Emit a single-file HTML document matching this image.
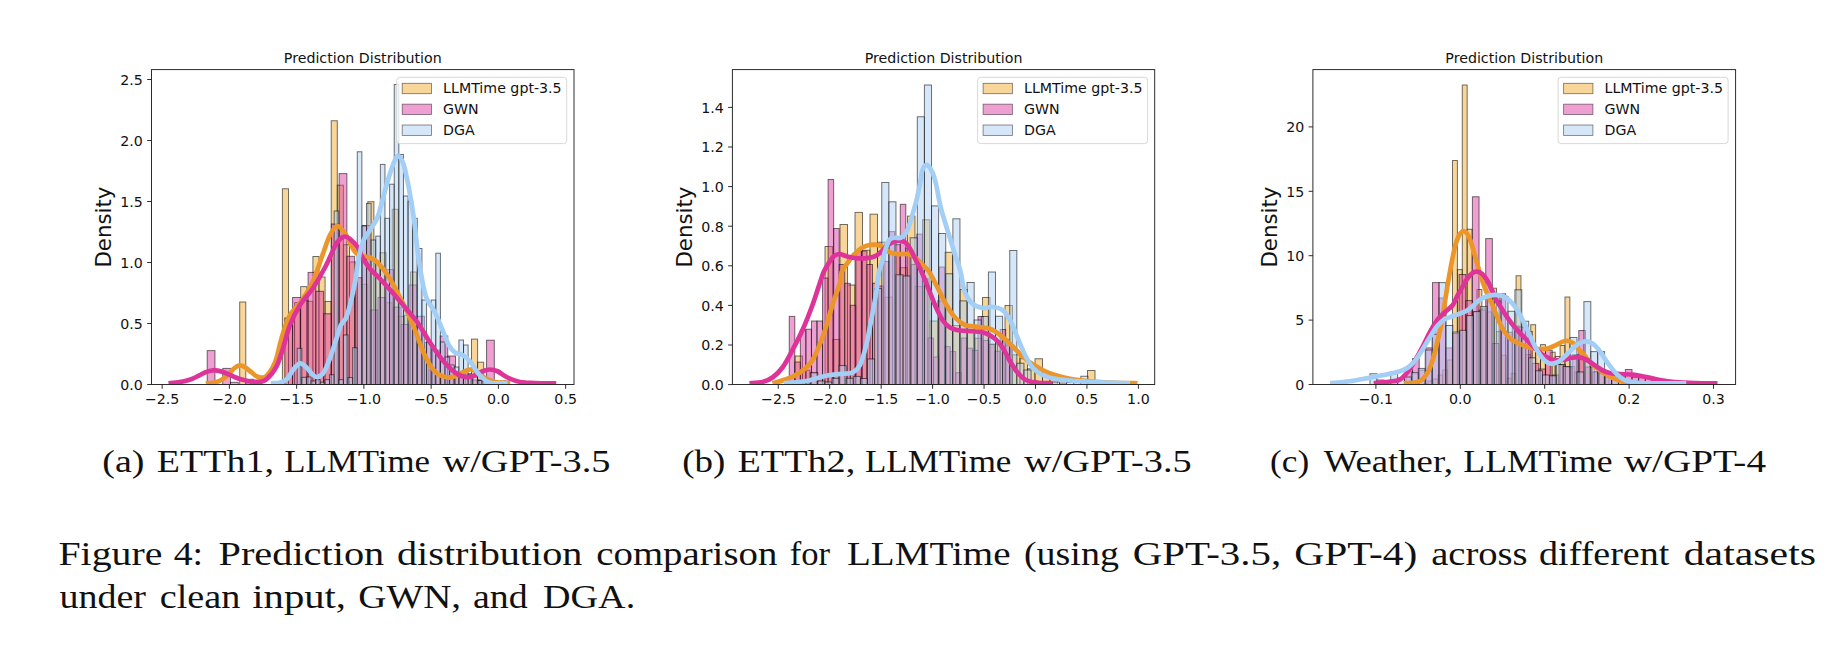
<!DOCTYPE html><html><head><meta charset="utf-8"><title>Figure 4</title>
<style>html,body{margin:0;padding:0;background:#fff}body{width:1835px;height:660px;overflow:hidden}svg{display:block}text{fill:#111}.tk{font-family:"DejaVu Sans", "Liberation Sans", sans-serif;font-size:14.2px}.ttl{font-family:"DejaVu Sans", "Liberation Sans", sans-serif;font-size:14.2px}.yl{font-family:"DejaVu Sans", "Liberation Sans", sans-serif;font-size:21.3px}.lg{font-family:"DejaVu Sans", "Liberation Sans", sans-serif;font-size:14.2px}.cap{font-family:"Liberation Serif", "DejaVu Serif", serif;font-size:33.6px;fill:#000}.sub{font-family:"Liberation Serif", "DejaVu Serif", serif;font-size:30.8px;fill:#000}</style></head><body>
<svg width="1835" height="660" viewBox="0 0 1835 660">
<rect width="1835" height="660" fill="#fff"/>
<g>
<clipPath id="c0"><rect x="151.5" y="69.6" width="422.5" height="314.9"/></clipPath>
<g clip-path="url(#c0)">
<g fill="#F1AB31" fill-opacity="0.5" stroke="#000" stroke-opacity="0.55" stroke-width="1">
<rect x="239.7" y="302" width="6.1" height="82.5"/>
<rect x="282.4" y="188.75" width="6.1" height="195.75"/>
<rect x="288.5" y="318" width="6.1" height="66.5"/>
<rect x="294.6" y="302.5" width="6.1" height="82"/>
<rect x="300.7" y="286.6" width="6.1" height="97.9"/>
<rect x="306.8" y="301.31" width="6.1" height="83.19"/>
<rect x="312.9" y="256.5" width="6.1" height="128"/>
<rect x="319" y="277" width="6.1" height="107.5"/>
<rect x="325.1" y="301.5" width="6.1" height="83"/>
<rect x="331.2" y="120.75" width="6.1" height="263.75"/>
<rect x="337.3" y="185.2" width="6.1" height="199.3"/>
<rect x="343.4" y="244.71" width="6.1" height="139.79"/>
<rect x="349.5" y="262" width="6.1" height="122.5"/>
<rect x="355.6" y="277.78" width="6.1" height="106.72"/>
<rect x="361.7" y="284.3" width="6.1" height="100.2"/>
<rect x="367.8" y="201.7" width="6.1" height="182.8"/>
<rect x="373.9" y="263.46" width="6.1" height="121.04"/>
<rect x="380" y="252.8" width="6.1" height="131.7"/>
<rect x="386.1" y="302.77" width="6.1" height="81.73"/>
<rect x="392.2" y="209.3" width="6.1" height="175.2"/>
<rect x="398.3" y="316.34" width="6.1" height="68.16"/>
<rect x="404.4" y="315.19" width="6.1" height="69.31"/>
<rect x="410.5" y="272" width="6.1" height="112.5"/>
<rect x="416.6" y="344.27" width="6.1" height="40.23"/>
<rect x="422.7" y="358.91" width="6.1" height="25.59"/>
<rect x="428.8" y="369.6" width="6.1" height="14.9"/>
<rect x="434.9" y="374.89" width="6.1" height="9.61"/>
<rect x="441" y="377.04" width="6.1" height="7.46"/>
<rect x="447.1" y="378.12" width="6.1" height="6.38"/>
<rect x="453.2" y="375.88" width="6.1" height="8.62"/>
<rect x="459.3" y="374.48" width="6.1" height="10.02"/>
<rect x="465.4" y="373.7" width="6.1" height="10.8"/>
<rect x="471.5" y="339.1" width="6.1" height="45.4"/>
<rect x="477.6" y="362.2" width="6.1" height="22.3"/>
</g>
<g fill="#DF41A7" fill-opacity="0.5" stroke="#000" stroke-opacity="0.55" stroke-width="1">
<rect x="207.2" y="350.6" width="7.76" height="33.9"/>
<rect x="222.72" y="368.4" width="7.76" height="16.1"/>
<rect x="230.48" y="382.3" width="7.76" height="2.2"/>
<rect x="246" y="379.3" width="7.76" height="5.2"/>
<rect x="284.8" y="318" width="7.76" height="66.5"/>
<rect x="292.56" y="297.5" width="7.76" height="87"/>
<rect x="300.32" y="300" width="7.76" height="84.5"/>
<rect x="308.08" y="272.4" width="7.76" height="112.1"/>
<rect x="315.84" y="291.3" width="7.76" height="93.2"/>
<rect x="323.6" y="313.75" width="7.76" height="70.75"/>
<rect x="331.36" y="224" width="7.76" height="160.5"/>
<rect x="339.12" y="173.6" width="7.76" height="210.9"/>
<rect x="346.88" y="256.3" width="7.76" height="128.2"/>
<rect x="354.64" y="277.7" width="7.76" height="106.8"/>
<rect x="362.4" y="225.5" width="7.76" height="159"/>
<rect x="370.16" y="310" width="7.76" height="74.5"/>
<rect x="377.92" y="297.5" width="7.76" height="87"/>
<rect x="385.68" y="269.6" width="7.76" height="114.9"/>
<rect x="393.44" y="307.14" width="7.76" height="77.36"/>
<rect x="401.2" y="324.47" width="7.76" height="60.03"/>
<rect x="408.96" y="285" width="7.76" height="99.5"/>
<rect x="416.72" y="316.25" width="7.76" height="68.25"/>
<rect x="424.48" y="342.5" width="7.76" height="42"/>
<rect x="432.24" y="350" width="7.76" height="34.5"/>
<rect x="440" y="336" width="7.76" height="48.5"/>
<rect x="447.76" y="356" width="7.76" height="28.5"/>
<rect x="455.52" y="372.5" width="7.76" height="12"/>
<rect x="463.28" y="375" width="7.76" height="9.5"/>
<rect x="471.04" y="380" width="7.76" height="4.5"/>
<rect x="478.8" y="380" width="7.76" height="4.5"/>
<rect x="486.56" y="340.2" width="7.76" height="44.3"/>
</g>
<g fill="#ADCFF3" fill-opacity="0.5" stroke="#000" stroke-opacity="0.55" stroke-width="1">
<rect x="297.2" y="348.3" width="4.62" height="36.2"/>
<rect x="301.82" y="377.3" width="4.62" height="7.2"/>
<rect x="306.44" y="377" width="4.62" height="7.5"/>
<rect x="311.06" y="381" width="4.62" height="3.5"/>
<rect x="315.68" y="379.7" width="4.62" height="4.8"/>
<rect x="320.3" y="382.2" width="4.62" height="2.3"/>
<rect x="324.92" y="379.7" width="4.62" height="4.8"/>
<rect x="329.54" y="374.7" width="4.62" height="9.8"/>
<rect x="334.16" y="211" width="4.62" height="173.5"/>
<rect x="338.78" y="379.7" width="4.62" height="4.8"/>
<rect x="343.4" y="335" width="4.62" height="49.5"/>
<rect x="348.02" y="377.5" width="4.62" height="7"/>
<rect x="352.64" y="347.7" width="4.62" height="36.8"/>
<rect x="357.26" y="151.75" width="4.62" height="232.75"/>
<rect x="361.88" y="226" width="4.62" height="158.5"/>
<rect x="366.5" y="203.4" width="4.62" height="181.1"/>
<rect x="371.12" y="240" width="4.62" height="144.5"/>
<rect x="375.74" y="236.1" width="4.62" height="148.4"/>
<rect x="380.36" y="164.4" width="4.62" height="220.1"/>
<rect x="384.98" y="218.3" width="4.62" height="166.2"/>
<rect x="389.6" y="184.2" width="4.62" height="200.3"/>
<rect x="394.22" y="84.5" width="4.62" height="300"/>
<rect x="398.84" y="154.5" width="4.62" height="230"/>
<rect x="403.46" y="196" width="4.62" height="188.5"/>
<rect x="408.08" y="201.2" width="4.62" height="183.3"/>
<rect x="412.7" y="218.3" width="4.62" height="166.2"/>
<rect x="417.32" y="248.5" width="4.62" height="136"/>
<rect x="421.94" y="300" width="4.62" height="84.5"/>
<rect x="426.56" y="342" width="4.62" height="42.5"/>
<rect x="431.18" y="300" width="4.62" height="84.5"/>
<rect x="435.8" y="253.2" width="4.62" height="131.3"/>
<rect x="440.42" y="342" width="4.62" height="42.5"/>
<rect x="445.04" y="357" width="4.62" height="27.5"/>
<rect x="449.66" y="365" width="4.62" height="19.5"/>
<rect x="454.28" y="367" width="4.62" height="17.5"/>
<rect x="458.9" y="340" width="4.62" height="44.5"/>
<rect x="463.52" y="345" width="4.62" height="39.5"/>
<rect x="468.14" y="375" width="4.62" height="9.5"/>
<rect x="472.76" y="377" width="4.62" height="7.5"/>
<rect x="477.38" y="380.5" width="4.62" height="4"/>
<rect x="482" y="381" width="4.62" height="3.5"/>
<rect x="486.62" y="382" width="4.62" height="2.5"/>
<rect x="491.24" y="382.5" width="4.62" height="2"/>
<rect x="495.86" y="382" width="4.62" height="2.5"/>
<rect x="500.48" y="381" width="4.62" height="3.5"/>
<rect x="505.1" y="381" width="4.62" height="3.5"/>
</g>
<path d="M205.8 383.3C207.43 383.12 212.88 382.82 215.6 382.2C218.32 381.58 219.92 380.9 222.1 379.6C224.28 378.3 226.73 376.25 228.7 374.4C230.67 372.55 232.05 370 233.9 368.5C235.75 367 237.95 365.62 239.8 365.4C241.65 365.18 243.03 366.03 245 367.2C246.97 368.37 249.63 370.87 251.6 372.4C253.57 373.93 255.17 375.52 256.8 376.4C258.43 377.28 259.87 377.7 261.4 377.7C262.93 377.7 264.58 377.38 266 376.4C267.42 375.42 268.72 373.45 269.9 371.8C271.08 370.15 272.02 368.72 273.1 366.5C274.18 364.28 274.83 363.75 276.4 358.5C277.97 353.25 280.23 342.25 282.5 335C284.77 327.75 287.08 320.33 290 315C292.92 309.67 296.25 308.42 300 303C303.75 297.58 308.75 290.5 312.5 282.5C316.25 274.5 319.58 262.92 322.5 255C325.42 247.08 327.5 239.83 330 235C332.5 230.17 334.83 226 337.5 226C340.17 226 343.29 231 346 235C348.71 239 351.75 246.75 353.75 250C355.75 253.25 356.54 253.46 358 254.5C359.46 255.54 360.5 255.75 362.5 256.25C364.5 256.75 367.5 256.46 370 257.5C372.5 258.54 374.58 259.58 377.5 262.5C380.42 265.42 384.17 270 387.5 275C390.83 280 394.17 286.25 397.5 292.5C400.83 298.75 404.58 306.25 407.5 312.5C410.42 318.75 412.5 323.75 415 330C417.5 336.25 420 344.17 422.5 350C425 355.83 427.5 361.04 430 365C432.5 368.96 434.58 371.67 437.5 373.75C440.42 375.83 444.58 377.08 447.5 377.5C450.42 377.92 452.08 377.29 455 376.25C457.92 375.21 462.29 372.38 465 371.25C467.71 370.12 469.17 369.29 471.25 369.5C473.33 369.71 475.21 371.08 477.5 372.5C479.79 373.92 482.08 376.42 485 378C487.92 379.58 490.83 381.12 495 382C499.17 382.88 507.5 383.08 510 383.3" fill="none" stroke="#EC962A" stroke-width="4.7" stroke-linejoin="round" stroke-linecap="butt"/>
<path d="M168.5 383.3C170.35 383.12 176.65 382.62 179.6 382.2C182.55 381.78 184.02 381.4 186.2 380.8C188.38 380.2 190.53 379.5 192.7 378.6C194.87 377.7 197.02 376.48 199.2 375.4C201.38 374.32 203.62 372.92 205.8 372.1C207.98 371.28 210.67 370.8 212.3 370.5C213.93 370.2 213.97 370.08 215.6 370.3C217.23 370.52 219.92 371.12 222.1 371.8C224.28 372.48 226.52 373.48 228.7 374.4C230.88 375.32 233.02 376.43 235.2 377.3C237.38 378.17 239.62 378.93 241.8 379.6C243.98 380.27 246.13 380.92 248.3 381.3C250.47 381.68 252.62 381.85 254.8 381.9C256.98 381.95 259.53 381.98 261.4 381.6C263.27 381.22 264.37 380.8 266 379.6C267.63 378.4 269.78 376.03 271.2 374.4C272.62 372.77 273.42 371.55 274.5 369.8C275.58 368.05 276.37 367.2 277.7 363.9C279.03 360.6 280.45 356.48 282.5 350C284.55 343.52 287.08 332.5 290 325C292.92 317.5 296.25 311.04 300 305C303.75 298.96 308.33 295 312.5 288.75C316.67 282.5 321.25 274.58 325 267.5C328.75 260.42 332.5 251 335 246.25C337.5 241.5 338.33 240.62 340 239C341.67 237.38 343.33 236.5 345 236.5C346.67 236.5 347.92 237.25 350 239C352.08 240.75 355.42 243.92 357.5 247C359.58 250.08 360.42 253.88 362.5 257.5C364.58 261.12 367.08 265.21 370 268.75C372.92 272.29 376.25 274.79 380 278.75C383.75 282.71 388.33 287.71 392.5 292.5C396.67 297.29 400.83 302.5 405 307.5C409.17 312.5 413.33 316.67 417.5 322.5C421.67 328.33 425.83 336.25 430 342.5C434.17 348.75 438.33 355 442.5 360C446.67 365 451.25 369.67 455 372.5C458.75 375.33 462.08 376.38 465 377C467.92 377.62 469.58 377.21 472.5 376.25C475.42 375.29 479.58 372.38 482.5 371.25C485.42 370.12 487.5 369.5 490 369.5C492.5 369.5 494.58 369.92 497.5 371.25C500.42 372.58 503.75 375.71 507.5 377.5C511.25 379.29 515.42 381.08 520 382C524.58 382.92 528.96 382.78 535 383C541.04 383.22 552.71 383.25 556.25 383.3" fill="none" stroke="#DE3399" stroke-width="4.7" stroke-linejoin="round" stroke-linecap="butt"/>
<path d="M270.8 383.3C272.33 383.17 277.3 383.22 280 382.5C282.7 381.78 284.83 381.08 287 379C289.17 376.92 290.83 372.6 293 370C295.17 367.4 297.67 363.73 300 363.4C302.33 363.07 304.83 366.07 307 368C309.17 369.93 311.17 373.5 313 375C314.83 376.5 316.17 377.5 318 377C319.83 376.5 322 375.17 324 372C326 368.83 328 363.33 330 358C332 352.67 334.17 345.5 336 340C337.83 334.5 339.33 328.67 341 325C342.67 321.33 344.5 321.33 346 318C347.5 314.67 348.5 310.92 350 305C351.5 299.08 353.54 290.42 355 282.5C356.46 274.58 357.29 264.58 358.75 257.5C360.21 250.42 361.88 244.58 363.75 240C365.62 235.42 367.71 233.75 370 230C372.29 226.25 375.42 222.5 377.5 217.5C379.58 212.5 380.62 206.67 382.5 200C384.38 193.33 386.67 184.17 388.75 177.5C390.83 170.83 393.33 163.54 395 160C396.67 156.46 397.29 155.42 398.75 156.25C400.21 157.08 402.08 159.79 403.75 165C405.42 170.21 407.08 178.75 408.75 187.5C410.42 196.25 412.29 207.08 413.75 217.5C415.21 227.92 416.25 240.42 417.5 250C418.75 259.58 419.79 267.08 421.25 275C422.71 282.92 423.96 291.25 426.25 297.5C428.54 303.75 432.29 307.08 435 312.5C437.71 317.92 440.21 324.58 442.5 330C444.79 335.42 446.67 341.25 448.75 345C450.83 348.75 452.71 350.83 455 352.5C457.29 354.17 460 353.54 462.5 355C465 356.46 467.5 358.33 470 361.25C472.5 364.17 475 369.38 477.5 372.5C480 375.62 482.71 378.25 485 380C487.29 381.75 487.5 382.45 491.25 383C495 383.55 504.79 383.25 507.5 383.3" fill="none" stroke="#A3CEF5" stroke-width="4.7" stroke-linejoin="round" stroke-linecap="butt"/>
</g>
<rect x="151.5" y="69.6" width="422.5" height="314.9" fill="none" stroke="#222" stroke-width="0.95"/>
<line x1="162.15" y1="384.5" x2="162.15" y2="388.8" stroke="#222" stroke-width="0.95"/>
<text class="tk" x="162.15" y="403.8" text-anchor="middle">−2.5</text>
<line x1="229.4" y1="384.5" x2="229.4" y2="388.8" stroke="#222" stroke-width="0.95"/>
<text class="tk" x="229.4" y="403.8" text-anchor="middle">−2.0</text>
<line x1="296.65" y1="384.5" x2="296.65" y2="388.8" stroke="#222" stroke-width="0.95"/>
<text class="tk" x="296.65" y="403.8" text-anchor="middle">−1.5</text>
<line x1="363.9" y1="384.5" x2="363.9" y2="388.8" stroke="#222" stroke-width="0.95"/>
<text class="tk" x="363.9" y="403.8" text-anchor="middle">−1.0</text>
<line x1="431.15" y1="384.5" x2="431.15" y2="388.8" stroke="#222" stroke-width="0.95"/>
<text class="tk" x="431.15" y="403.8" text-anchor="middle">−0.5</text>
<line x1="498.4" y1="384.5" x2="498.4" y2="388.8" stroke="#222" stroke-width="0.95"/>
<text class="tk" x="498.4" y="403.8" text-anchor="middle">0.0</text>
<line x1="565.65" y1="384.5" x2="565.65" y2="388.8" stroke="#222" stroke-width="0.95"/>
<text class="tk" x="565.65" y="403.8" text-anchor="middle">0.5</text>
<line x1="147.2" y1="384.5" x2="151.5" y2="384.5" stroke="#222" stroke-width="0.95"/>
<text class="tk" x="142.9" y="389.8" text-anchor="end">0.0</text>
<line x1="147.2" y1="323.5" x2="151.5" y2="323.5" stroke="#222" stroke-width="0.95"/>
<text class="tk" x="142.9" y="328.8" text-anchor="end">0.5</text>
<line x1="147.2" y1="262.5" x2="151.5" y2="262.5" stroke="#222" stroke-width="0.95"/>
<text class="tk" x="142.9" y="267.8" text-anchor="end">1.0</text>
<line x1="147.2" y1="201.5" x2="151.5" y2="201.5" stroke="#222" stroke-width="0.95"/>
<text class="tk" x="142.9" y="206.8" text-anchor="end">1.5</text>
<line x1="147.2" y1="140.5" x2="151.5" y2="140.5" stroke="#222" stroke-width="0.95"/>
<text class="tk" x="142.9" y="145.8" text-anchor="end">2.0</text>
<line x1="147.2" y1="79.5" x2="151.5" y2="79.5" stroke="#222" stroke-width="0.95"/>
<text class="tk" x="142.9" y="84.8" text-anchor="end">2.5</text>
<text class="ttl" x="362.75" y="62.7" text-anchor="middle">Prediction Distribution</text>
<text class="yl" transform="translate(111.3 227.05) rotate(-90)" text-anchor="middle">Density</text>
<rect x="396.7" y="77.3" width="170" height="66.3" rx="3" ry="3" fill="#fff" fill-opacity="0.8" stroke="#ccc" stroke-opacity="0.8" stroke-width="0.95"/>
<rect x="402.2" y="83.3" width="29.3" height="10.4" fill="#F1AB31" fill-opacity="0.5" stroke="#000" stroke-opacity="0.5" stroke-width="0.85"/>
<text class="lg" x="443.1" y="93.3">LLMTime gpt-3.5</text>
<rect x="402.2" y="104.15" width="29.3" height="10.4" fill="#DF41A7" fill-opacity="0.5" stroke="#000" stroke-opacity="0.5" stroke-width="0.85"/>
<text class="lg" x="443.1" y="114.15">GWN</text>
<rect x="402.2" y="125" width="29.3" height="10.4" fill="#ADCFF3" fill-opacity="0.5" stroke="#000" stroke-opacity="0.5" stroke-width="0.85"/>
<text class="lg" x="443.1" y="135">DGA</text>
</g>
<g>
<clipPath id="c1"><rect x="732.4" y="69.6" width="422.3" height="314.9"/></clipPath>
<g clip-path="url(#c1)">
<g fill="#F1AB31" fill-opacity="0.5" stroke="#000" stroke-opacity="0.55" stroke-width="1">
<rect x="795" y="356" width="7.5" height="28.5"/>
<rect x="802.5" y="370.2" width="7.5" height="14.3"/>
<rect x="810" y="372.7" width="7.5" height="11.8"/>
<rect x="817.5" y="378" width="7.5" height="6.5"/>
<rect x="825" y="246.5" width="7.5" height="138"/>
<rect x="832.5" y="339.5" width="7.5" height="45"/>
<rect x="840" y="224.5" width="7.5" height="160"/>
<rect x="847.5" y="285" width="7.5" height="99.5"/>
<rect x="855" y="212.4" width="7.5" height="172.1"/>
<rect x="862.5" y="250.2" width="7.5" height="134.3"/>
<rect x="870" y="214.2" width="7.5" height="170.3"/>
<rect x="877.5" y="242.2" width="7.5" height="142.3"/>
<rect x="885" y="297.2" width="7.5" height="87.3"/>
<rect x="892.5" y="254.46" width="7.5" height="130.04"/>
<rect x="900" y="267.72" width="7.5" height="116.78"/>
<rect x="907.5" y="216.1" width="7.5" height="168.4"/>
<rect x="915" y="286.6" width="7.5" height="97.9"/>
<rect x="922.5" y="219.8" width="7.5" height="164.7"/>
<rect x="930" y="321" width="7.5" height="63.5"/>
<rect x="937.5" y="300.9" width="7.5" height="83.6"/>
<rect x="945" y="252.3" width="7.5" height="132.2"/>
<rect x="952.5" y="325.51" width="7.5" height="58.99"/>
<rect x="960" y="289.5" width="7.5" height="95"/>
<rect x="967.5" y="332.16" width="7.5" height="52.34"/>
<rect x="975" y="338.32" width="7.5" height="46.18"/>
<rect x="982.5" y="297.5" width="7.5" height="87"/>
<rect x="990" y="344.08" width="7.5" height="40.42"/>
<rect x="997.5" y="341.03" width="7.5" height="43.47"/>
<rect x="1005" y="305.5" width="7.5" height="79"/>
<rect x="1012.5" y="354.82" width="7.5" height="29.68"/>
<rect x="1020" y="358.68" width="7.5" height="25.82"/>
<rect x="1027.5" y="368.75" width="7.5" height="15.75"/>
<rect x="1035" y="358.75" width="7.5" height="25.75"/>
<rect x="1042.5" y="371.5" width="7.5" height="13"/>
<rect x="1050" y="374.5" width="7.5" height="10"/>
<rect x="1087.5" y="370.5" width="7.5" height="14"/>
</g>
<g fill="#DF41A7" fill-opacity="0.5" stroke="#000" stroke-opacity="0.55" stroke-width="1">
<rect x="789.25" y="316.4" width="5.55" height="68.1"/>
<rect x="794.8" y="362" width="5.55" height="22.5"/>
<rect x="800.35" y="329.8" width="5.55" height="54.7"/>
<rect x="805.9" y="329.2" width="5.55" height="55.3"/>
<rect x="811.45" y="321" width="5.55" height="63.5"/>
<rect x="817" y="321" width="5.55" height="63.5"/>
<rect x="822.55" y="278" width="5.55" height="106.5"/>
<rect x="828.1" y="179.5" width="5.55" height="205"/>
<rect x="833.65" y="228.5" width="5.55" height="156"/>
<rect x="839.2" y="264.5" width="5.55" height="120"/>
<rect x="844.75" y="283.3" width="5.55" height="101.2"/>
<rect x="850.3" y="305.3" width="5.55" height="79.2"/>
<rect x="855.85" y="250.9" width="5.55" height="133.6"/>
<rect x="861.4" y="251" width="5.55" height="133.5"/>
<rect x="866.95" y="264.5" width="5.55" height="120"/>
<rect x="872.5" y="283.3" width="5.55" height="101.2"/>
<rect x="878.05" y="286" width="5.55" height="98.5"/>
<rect x="883.6" y="261.4" width="5.55" height="123.1"/>
<rect x="889.15" y="231.6" width="5.55" height="152.9"/>
<rect x="894.7" y="244.7" width="5.55" height="139.8"/>
<rect x="900.25" y="204.3" width="5.55" height="180.2"/>
<rect x="905.8" y="248" width="5.55" height="136.5"/>
<rect x="911.35" y="264.5" width="5.55" height="120"/>
<rect x="916.9" y="234.1" width="5.55" height="150.4"/>
<rect x="922.45" y="278.6" width="5.55" height="105.9"/>
<rect x="928" y="338" width="5.55" height="46.5"/>
<rect x="933.55" y="357" width="5.55" height="27.5"/>
<rect x="939.1" y="267" width="5.55" height="117.5"/>
<rect x="944.65" y="346.6" width="5.55" height="37.9"/>
<rect x="950.2" y="351.6" width="5.55" height="32.9"/>
<rect x="955.75" y="372.7" width="5.55" height="11.8"/>
<rect x="961.3" y="338" width="5.55" height="46.5"/>
<rect x="966.85" y="348.2" width="5.55" height="36.3"/>
<rect x="972.4" y="350.3" width="5.55" height="34.2"/>
<rect x="977.95" y="316.5" width="5.55" height="68"/>
<rect x="983.5" y="340.4" width="5.55" height="44.1"/>
<rect x="989.05" y="344.5" width="5.55" height="40"/>
<rect x="994.6" y="351.25" width="5.55" height="33.25"/>
<rect x="1000.15" y="329.5" width="5.55" height="55"/>
<rect x="1005.7" y="345" width="5.55" height="39.5"/>
</g>
<g fill="#ADCFF3" fill-opacity="0.5" stroke="#000" stroke-opacity="0.55" stroke-width="1">
<rect x="810.65" y="372.7" width="7.11" height="11.8"/>
<rect x="817.76" y="381" width="7.11" height="3.5"/>
<rect x="824.87" y="382" width="7.11" height="2.5"/>
<rect x="831.98" y="378.3" width="7.11" height="6.2"/>
<rect x="839.09" y="365.6" width="7.11" height="18.9"/>
<rect x="846.2" y="378.3" width="7.11" height="6.2"/>
<rect x="853.31" y="376.4" width="7.11" height="8.1"/>
<rect x="860.42" y="378.5" width="7.11" height="6"/>
<rect x="867.53" y="359" width="7.11" height="25.5"/>
<rect x="874.64" y="288.62" width="7.11" height="95.88"/>
<rect x="881.75" y="182.5" width="7.11" height="202"/>
<rect x="888.86" y="201.8" width="7.11" height="182.7"/>
<rect x="895.97" y="274.8" width="7.11" height="109.7"/>
<rect x="903.08" y="276" width="7.11" height="108.5"/>
<rect x="910.19" y="237.8" width="7.11" height="146.7"/>
<rect x="917.3" y="116.75" width="7.11" height="267.75"/>
<rect x="924.41" y="85" width="7.11" height="299.5"/>
<rect x="931.52" y="205.9" width="7.11" height="178.6"/>
<rect x="938.63" y="233.5" width="7.11" height="151"/>
<rect x="945.74" y="273.75" width="7.11" height="110.75"/>
<rect x="952.85" y="218.8" width="7.11" height="165.7"/>
<rect x="959.96" y="300.9" width="7.11" height="83.6"/>
<rect x="967.07" y="282.5" width="7.11" height="102"/>
<rect x="974.18" y="320" width="7.11" height="64.5"/>
<rect x="981.29" y="316.5" width="7.11" height="68"/>
<rect x="988.4" y="272" width="7.11" height="112.5"/>
<rect x="995.51" y="316.25" width="7.11" height="68.25"/>
<rect x="1002.62" y="340" width="7.11" height="44.5"/>
<rect x="1009.73" y="250.5" width="7.11" height="134"/>
<rect x="1016.84" y="363.25" width="7.11" height="21.25"/>
<rect x="1023.95" y="370" width="7.11" height="14.5"/>
<rect x="1031.06" y="381" width="7.11" height="3.5"/>
<rect x="1038.17" y="382" width="7.11" height="2.5"/>
<rect x="1045.28" y="382.5" width="7.11" height="2"/>
<rect x="1052.39" y="382" width="7.11" height="2.5"/>
<rect x="1059.5" y="383" width="7.11" height="1.5"/>
<rect x="1066.61" y="382.5" width="7.11" height="2"/>
<rect x="1073.72" y="382" width="7.11" height="2.5"/>
<rect x="1080.83" y="376.25" width="7.11" height="8.25"/>
<rect x="1087.94" y="383" width="7.11" height="1.5"/>
<rect x="1095.05" y="383" width="7.11" height="1.5"/>
<rect x="1102.16" y="383" width="7.11" height="1.5"/>
<rect x="1109.27" y="383" width="7.11" height="1.5"/>
<rect x="1116.38" y="383" width="7.11" height="1.5"/>
<rect x="1123.49" y="383" width="7.11" height="1.5"/>
</g>
<path d="M772.5 383.3C775 382.54 782.92 380.55 787.5 378.75C792.08 376.95 796.25 375 800 372.5C803.75 370 807.08 367.5 810 363.75C812.92 360 815 355.62 817.5 350C820 344.38 822.5 337.5 825 330C827.5 322.5 830 312.92 832.5 305C835 297.08 838.47 288 840 282.5C841.53 277 840.48 275.2 841.7 272C842.92 268.8 845.33 266.1 847.3 263.3C849.27 260.5 851.23 257.68 853.5 255.2C855.77 252.72 858.42 250.05 860.9 248.4C863.38 246.75 865.92 245.92 868.4 245.3C870.88 244.68 873.53 244.5 875.8 244.7C878.07 244.9 879.72 245.27 882 246.5C884.28 247.73 887 250.85 889.5 252.1C892 253.35 894.52 253.68 897 254C899.48 254.32 902.13 253.9 904.4 254C906.67 254.1 908.53 253.78 910.6 254.6C912.67 255.42 914.73 257.13 916.8 258.9C918.87 260.67 920.92 263.02 923 265.2C925.08 267.38 926.88 268.28 929.3 272C931.72 275.72 934.88 282.42 937.5 287.5C940.12 292.58 942.08 297.5 945 302.5C947.92 307.5 951.67 313.75 955 317.5C958.33 321.25 961.25 323.46 965 325C968.75 326.54 973.33 326.12 977.5 326.75C981.67 327.38 986.25 327.38 990 328.75C993.75 330.12 996.67 332.5 1000 335C1003.33 337.5 1006.67 340.62 1010 343.75C1013.33 346.88 1016.67 350.62 1020 353.75C1023.33 356.88 1026.25 359.79 1030 362.5C1033.75 365.21 1038.33 367.92 1042.5 370C1046.67 372.08 1050.42 373.54 1055 375C1059.58 376.46 1064.17 377.71 1070 378.75C1075.83 379.79 1082.5 380.58 1090 381.25C1097.5 381.92 1107.08 382.41 1115 382.75C1122.92 383.09 1133.75 383.21 1137.5 383.3" fill="none" stroke="#EC962A" stroke-width="4.7" stroke-linejoin="round" stroke-linecap="butt"/>
<path d="M749.5 383.3C751.67 383.08 758.67 382.97 762.5 382C766.33 381.03 769.17 379.92 772.5 377.5C775.83 375.08 779.17 372.08 782.5 367.5C785.83 362.92 789.17 356.25 792.5 350C795.83 343.75 799.17 337.5 802.5 330C805.83 322.5 809.58 312.92 812.5 305C815.42 297.08 818.13 288 820 282.5C821.87 277 822.27 275.2 823.7 272C825.13 268.8 826.95 265.88 828.6 263.3C830.25 260.72 831.83 258.05 833.6 256.5C835.37 254.95 836.92 254 839.2 254C841.48 254 844.3 255.78 847.3 256.5C850.3 257.22 853.9 258.03 857.2 258.3C860.5 258.57 864 258.52 867.1 258.1C870.2 257.68 873.32 257 875.8 255.8C878.28 254.6 879.92 252.75 882 250.9C884.08 249.05 886.22 246.25 888.3 244.7C890.38 243.15 892.43 242.23 894.5 241.6C896.57 240.97 898.83 240.7 900.7 240.9C902.57 241.1 904.05 241.35 905.7 242.8C907.35 244.25 908.95 246.8 910.6 249.6C912.25 252.4 913.93 256.28 915.6 259.6C917.27 262.92 919.03 266.1 920.6 269.5C922.17 272.9 923.43 276.17 925 280C926.57 283.83 928.33 288.33 930 292.5C931.67 296.67 932.92 300.42 935 305C937.08 309.58 940 316.25 942.5 320C945 323.75 947.08 325.75 950 327.5C952.92 329.25 956.25 329.88 960 330.5C963.75 331.12 968.33 330.83 972.5 331.25C976.67 331.67 981.25 331.75 985 333C988.75 334.25 992.08 336.33 995 338.75C997.92 341.17 1000 343.75 1002.5 347.5C1005 351.25 1007.5 357.08 1010 361.25C1012.5 365.42 1015 369.46 1017.5 372.5C1020 375.54 1022.08 377.83 1025 379.5C1027.92 381.17 1030.42 381.87 1035 382.5C1039.58 383.13 1049.58 383.17 1052.5 383.3" fill="none" stroke="#DE3399" stroke-width="4.7" stroke-linejoin="round" stroke-linecap="butt"/>
<path d="M783.75 383.3C787.29 382.96 799.38 382.13 805 381.25C810.62 380.37 813.33 379.04 817.5 378C821.67 376.96 825.83 375.71 830 375C834.17 374.29 838.75 374.17 842.5 373.75C846.25 373.33 849.58 373.96 852.5 372.5C855.42 371.04 857.71 369.58 860 365C862.29 360.42 864.38 352.5 866.25 345C868.12 337.5 869.58 328.75 871.25 320C872.92 311.25 874.98 300.5 876.25 292.5C877.52 284.5 877.94 277.08 878.9 272C879.86 266.92 880.85 265.93 882 262C883.15 258.07 884.55 252.12 885.8 248.4C887.05 244.68 888.05 241.47 889.5 239.7C890.95 237.93 892.63 238.12 894.5 237.8C896.37 237.48 898.83 238.52 900.7 237.8C902.57 237.08 904.25 235.67 905.7 233.5C907.15 231.33 908.17 228.32 909.4 224.8C910.63 221.28 911.87 216.75 913.1 212.4C914.33 208.05 915.65 203.43 916.8 198.7C917.95 193.97 919.05 188.78 920 184C920.95 179.22 921.33 173.17 922.5 170C923.67 166.83 925.33 164.58 927 165C928.67 165.42 931 169.33 932.5 172.5C934 175.67 934.68 178.4 936 184C937.32 189.6 938.83 199.52 940.4 206.1C941.97 212.68 943.73 217.9 945.4 223.5C947.07 229.1 948.75 234.32 950.4 239.7C952.05 245.08 953.65 250.63 955.3 255.8C956.95 260.97 958.68 264.58 960.3 270.7C961.92 276.82 962.97 286.99 965 292.5C967.03 298.01 969.58 301.17 972.5 303.75C975.42 306.33 979.17 307.46 982.5 308C985.83 308.54 989.17 306.67 992.5 307C995.83 307.33 999.58 307.83 1002.5 310C1005.42 312.17 1007.5 315.42 1010 320C1012.5 324.58 1015 331.67 1017.5 337.5C1020 343.33 1022.5 350 1025 355C1027.5 360 1029.58 364.17 1032.5 367.5C1035.42 370.83 1038.75 373.12 1042.5 375C1046.25 376.88 1050.42 377.83 1055 378.75C1059.58 379.67 1065 380.04 1070 380.5C1075 380.96 1079.17 381.17 1085 381.5C1090.83 381.83 1097.5 382.2 1105 382.5C1112.5 382.8 1125.83 383.17 1130 383.3" fill="none" stroke="#A3CEF5" stroke-width="4.7" stroke-linejoin="round" stroke-linecap="butt"/>
</g>
<rect x="732.4" y="69.6" width="422.3" height="314.9" fill="none" stroke="#222" stroke-width="0.95"/>
<line x1="778.25" y1="384.5" x2="778.25" y2="388.8" stroke="#222" stroke-width="0.95"/>
<text class="tk" x="778.25" y="403.8" text-anchor="middle">−2.5</text>
<line x1="829.7" y1="384.5" x2="829.7" y2="388.8" stroke="#222" stroke-width="0.95"/>
<text class="tk" x="829.7" y="403.8" text-anchor="middle">−2.0</text>
<line x1="881.15" y1="384.5" x2="881.15" y2="388.8" stroke="#222" stroke-width="0.95"/>
<text class="tk" x="881.15" y="403.8" text-anchor="middle">−1.5</text>
<line x1="932.6" y1="384.5" x2="932.6" y2="388.8" stroke="#222" stroke-width="0.95"/>
<text class="tk" x="932.6" y="403.8" text-anchor="middle">−1.0</text>
<line x1="984.05" y1="384.5" x2="984.05" y2="388.8" stroke="#222" stroke-width="0.95"/>
<text class="tk" x="984.05" y="403.8" text-anchor="middle">−0.5</text>
<line x1="1035.5" y1="384.5" x2="1035.5" y2="388.8" stroke="#222" stroke-width="0.95"/>
<text class="tk" x="1035.5" y="403.8" text-anchor="middle">0.0</text>
<line x1="1086.95" y1="384.5" x2="1086.95" y2="388.8" stroke="#222" stroke-width="0.95"/>
<text class="tk" x="1086.95" y="403.8" text-anchor="middle">0.5</text>
<line x1="1138.4" y1="384.5" x2="1138.4" y2="388.8" stroke="#222" stroke-width="0.95"/>
<text class="tk" x="1138.4" y="403.8" text-anchor="middle">1.0</text>
<line x1="728.1" y1="384.6" x2="732.4" y2="384.6" stroke="#222" stroke-width="0.95"/>
<text class="tk" x="723.8" y="389.9" text-anchor="end">0.0</text>
<line x1="728.1" y1="345" x2="732.4" y2="345" stroke="#222" stroke-width="0.95"/>
<text class="tk" x="723.8" y="350.3" text-anchor="end">0.2</text>
<line x1="728.1" y1="305.4" x2="732.4" y2="305.4" stroke="#222" stroke-width="0.95"/>
<text class="tk" x="723.8" y="310.7" text-anchor="end">0.4</text>
<line x1="728.1" y1="265.8" x2="732.4" y2="265.8" stroke="#222" stroke-width="0.95"/>
<text class="tk" x="723.8" y="271.1" text-anchor="end">0.6</text>
<line x1="728.1" y1="226.2" x2="732.4" y2="226.2" stroke="#222" stroke-width="0.95"/>
<text class="tk" x="723.8" y="231.5" text-anchor="end">0.8</text>
<line x1="728.1" y1="186.6" x2="732.4" y2="186.6" stroke="#222" stroke-width="0.95"/>
<text class="tk" x="723.8" y="191.9" text-anchor="end">1.0</text>
<line x1="728.1" y1="147" x2="732.4" y2="147" stroke="#222" stroke-width="0.95"/>
<text class="tk" x="723.8" y="152.3" text-anchor="end">1.2</text>
<line x1="728.1" y1="107.4" x2="732.4" y2="107.4" stroke="#222" stroke-width="0.95"/>
<text class="tk" x="723.8" y="112.7" text-anchor="end">1.4</text>
<text class="ttl" x="943.55" y="62.7" text-anchor="middle">Prediction Distribution</text>
<text class="yl" transform="translate(692 227.05) rotate(-90)" text-anchor="middle">Density</text>
<rect x="977.6" y="77.3" width="170" height="66.3" rx="3" ry="3" fill="#fff" fill-opacity="0.8" stroke="#ccc" stroke-opacity="0.8" stroke-width="0.95"/>
<rect x="983.1" y="83.3" width="29.3" height="10.4" fill="#F1AB31" fill-opacity="0.5" stroke="#000" stroke-opacity="0.5" stroke-width="0.85"/>
<text class="lg" x="1024" y="93.3">LLMTime gpt-3.5</text>
<rect x="983.1" y="104.15" width="29.3" height="10.4" fill="#DF41A7" fill-opacity="0.5" stroke="#000" stroke-opacity="0.5" stroke-width="0.85"/>
<text class="lg" x="1024" y="114.15">GWN</text>
<rect x="983.1" y="125" width="29.3" height="10.4" fill="#ADCFF3" fill-opacity="0.5" stroke="#000" stroke-opacity="0.5" stroke-width="0.85"/>
<text class="lg" x="1024" y="135">DGA</text>
</g>
<g>
<clipPath id="c2"><rect x="1312.9" y="69.6" width="422.7" height="314.9"/></clipPath>
<g clip-path="url(#c2)">
<g fill="#F1AB31" fill-opacity="0.5" stroke="#000" stroke-opacity="0.55" stroke-width="1">
<rect x="1423.16" y="384" width="4.89" height="0.5"/>
<rect x="1428.05" y="381" width="4.89" height="3.5"/>
<rect x="1432.94" y="379" width="4.89" height="5.5"/>
<rect x="1437.83" y="375" width="4.89" height="9.5"/>
<rect x="1442.72" y="370" width="4.89" height="14.5"/>
<rect x="1447.61" y="360" width="4.89" height="24.5"/>
<rect x="1452.5" y="160.5" width="4.89" height="224"/>
<rect x="1457.39" y="269.6" width="4.89" height="114.9"/>
<rect x="1462.28" y="85" width="4.89" height="299.5"/>
<rect x="1467.17" y="229.25" width="4.89" height="155.25"/>
<rect x="1472.06" y="312" width="4.89" height="72.5"/>
<rect x="1476.95" y="289.5" width="4.89" height="95"/>
<rect x="1481.84" y="308" width="4.89" height="76.5"/>
<rect x="1486.73" y="311.94" width="4.89" height="72.56"/>
<rect x="1491.62" y="288.2" width="4.89" height="96.3"/>
<rect x="1496.51" y="331.62" width="4.89" height="52.88"/>
<rect x="1501.4" y="355.3" width="4.89" height="29.2"/>
<rect x="1506.29" y="378.3" width="4.89" height="6.2"/>
<rect x="1511.18" y="373.3" width="4.89" height="11.2"/>
<rect x="1516.07" y="275.75" width="4.89" height="108.75"/>
<rect x="1520.96" y="347.78" width="4.89" height="36.72"/>
<rect x="1525.85" y="354.6" width="4.89" height="29.9"/>
<rect x="1530.74" y="324.7" width="4.89" height="59.8"/>
<rect x="1535.63" y="349.6" width="4.89" height="34.9"/>
<rect x="1540.52" y="344.6" width="4.89" height="39.9"/>
<rect x="1545.41" y="356.38" width="4.89" height="28.12"/>
<rect x="1550.3" y="352.2" width="4.89" height="32.3"/>
<rect x="1555.19" y="356.5" width="4.89" height="28"/>
<rect x="1560.08" y="345.5" width="4.89" height="39"/>
<rect x="1564.97" y="297" width="4.89" height="87.5"/>
<rect x="1569.86" y="366.5" width="4.89" height="18"/>
<rect x="1574.75" y="372" width="4.89" height="12.5"/>
<rect x="1579.64" y="357.74" width="4.89" height="26.76"/>
<rect x="1584.53" y="361.63" width="4.89" height="22.87"/>
<rect x="1589.42" y="366.98" width="4.89" height="17.52"/>
<rect x="1594.31" y="371.56" width="4.89" height="12.94"/>
<rect x="1599.2" y="372.47" width="4.89" height="12.03"/>
<rect x="1604.09" y="377.26" width="4.89" height="7.24"/>
</g>
<g fill="#DF41A7" fill-opacity="0.5" stroke="#000" stroke-opacity="0.55" stroke-width="1">
<rect x="1405.9" y="371" width="6.65" height="13.5"/>
<rect x="1412.55" y="358.6" width="6.65" height="25.9"/>
<rect x="1419.2" y="370" width="6.65" height="14.5"/>
<rect x="1425.85" y="347.9" width="6.65" height="36.6"/>
<rect x="1432.5" y="282.6" width="6.65" height="101.9"/>
<rect x="1439.15" y="298" width="6.65" height="86.5"/>
<rect x="1445.8" y="347.9" width="6.65" height="36.6"/>
<rect x="1452.45" y="333.6" width="6.65" height="50.9"/>
<rect x="1459.1" y="274.5" width="6.65" height="110"/>
<rect x="1465.75" y="300.6" width="6.65" height="83.9"/>
<rect x="1472.4" y="196.75" width="6.65" height="187.75"/>
<rect x="1479.05" y="310" width="6.65" height="74.5"/>
<rect x="1485.7" y="238.6" width="6.65" height="145.9"/>
<rect x="1492.35" y="343.5" width="6.65" height="41"/>
<rect x="1499" y="293.8" width="6.65" height="90.7"/>
<rect x="1505.65" y="332.3" width="6.65" height="52.2"/>
<rect x="1512.3" y="326" width="6.65" height="58.5"/>
<rect x="1518.95" y="327" width="6.65" height="57.5"/>
<rect x="1525.6" y="331.5" width="6.65" height="53"/>
<rect x="1532.25" y="363.4" width="6.65" height="21.1"/>
<rect x="1538.9" y="369" width="6.65" height="15.5"/>
<rect x="1545.55" y="350.3" width="6.65" height="34.2"/>
<rect x="1552.2" y="375" width="6.65" height="9.5"/>
<rect x="1558.85" y="364.6" width="6.65" height="19.9"/>
<rect x="1565.5" y="367" width="6.65" height="17.5"/>
<rect x="1572.15" y="354.7" width="6.65" height="29.8"/>
<rect x="1578.8" y="330.5" width="6.65" height="54"/>
<rect x="1585.45" y="367" width="6.65" height="17.5"/>
<rect x="1592.1" y="372" width="6.65" height="12.5"/>
<rect x="1598.75" y="373" width="6.65" height="11.5"/>
<rect x="1605.4" y="374" width="6.65" height="10.5"/>
<rect x="1612.05" y="375" width="6.65" height="9.5"/>
<rect x="1618.7" y="376" width="6.65" height="8.5"/>
<rect x="1625.35" y="369.5" width="6.65" height="15"/>
<rect x="1632" y="377.24" width="6.65" height="7.26"/>
<rect x="1638.65" y="376.45" width="6.65" height="8.05"/>
<rect x="1645.3" y="378.69" width="6.65" height="5.81"/>
<rect x="1651.95" y="379.03" width="6.65" height="5.47"/>
<rect x="1658.6" y="381.18" width="6.65" height="3.32"/>
<rect x="1665.25" y="381.81" width="6.65" height="2.69"/>
<rect x="1671.9" y="382.02" width="6.65" height="2.48"/>
<rect x="1678.55" y="382.99" width="6.65" height="1.51"/>
</g>
<g fill="#ADCFF3" fill-opacity="0.5" stroke="#000" stroke-opacity="0.55" stroke-width="1">
<rect x="1370" y="373.75" width="6.9" height="10.75"/>
<rect x="1376.9" y="380" width="6.9" height="4.5"/>
<rect x="1383.8" y="381" width="6.9" height="3.5"/>
<rect x="1390.7" y="372" width="6.9" height="12.5"/>
<rect x="1397.6" y="378" width="6.9" height="6.5"/>
<rect x="1404.5" y="377" width="6.9" height="7.5"/>
<rect x="1411.4" y="372.7" width="6.9" height="11.8"/>
<rect x="1418.3" y="368.4" width="6.9" height="16.1"/>
<rect x="1425.2" y="350" width="6.9" height="34.5"/>
<rect x="1432.1" y="334.29" width="6.9" height="50.21"/>
<rect x="1439" y="282.6" width="6.9" height="101.9"/>
<rect x="1445.9" y="325.5" width="6.9" height="59"/>
<rect x="1452.8" y="332.04" width="6.9" height="52.46"/>
<rect x="1459.7" y="330.33" width="6.9" height="54.17"/>
<rect x="1466.6" y="315.6" width="6.9" height="68.9"/>
<rect x="1473.5" y="311.55" width="6.9" height="72.95"/>
<rect x="1480.4" y="306.46" width="6.9" height="78.04"/>
<rect x="1487.3" y="299.17" width="6.9" height="85.33"/>
<rect x="1494.2" y="301.13" width="6.9" height="83.37"/>
<rect x="1501.1" y="296.3" width="6.9" height="88.2"/>
<rect x="1508" y="311.25" width="6.9" height="73.25"/>
<rect x="1514.9" y="289.8" width="6.9" height="94.7"/>
<rect x="1521.8" y="321.2" width="6.9" height="63.3"/>
<rect x="1528.7" y="357.8" width="6.9" height="26.7"/>
<rect x="1535.6" y="370.8" width="6.9" height="13.7"/>
<rect x="1542.5" y="375" width="6.9" height="9.5"/>
<rect x="1549.4" y="375.8" width="6.9" height="8.7"/>
<rect x="1556.3" y="364.6" width="6.9" height="19.9"/>
<rect x="1563.2" y="366.5" width="6.9" height="18"/>
<rect x="1570.1" y="337.5" width="6.9" height="47"/>
<rect x="1577" y="372" width="6.9" height="12.5"/>
<rect x="1583.9" y="301.6" width="6.9" height="82.9"/>
<rect x="1590.8" y="351.6" width="6.9" height="32.9"/>
<rect x="1597.7" y="351.6" width="6.9" height="32.9"/>
<rect x="1604.6" y="375.8" width="6.9" height="8.7"/>
<rect x="1611.5" y="378" width="6.9" height="6.5"/>
<rect x="1618.4" y="381" width="6.9" height="3.5"/>
<rect x="1625.3" y="382" width="6.9" height="2.5"/>
<rect x="1632.2" y="382.5" width="6.9" height="2"/>
<rect x="1639.1" y="383" width="6.9" height="1.5"/>
</g>
<path d="M1403.7 383.3C1405.57 383.18 1411.78 383.23 1414.9 382.6C1418.02 381.97 1420.12 381.47 1422.4 379.5C1424.68 377.53 1426.75 374.52 1428.6 370.8C1430.45 367.08 1432.05 361.95 1433.5 357.2C1434.95 352.45 1436.05 347.48 1437.3 342.3C1438.55 337.12 1439.97 331.32 1441 326.1C1442.03 320.88 1442.47 317.42 1443.5 311C1444.53 304.58 1445.97 295.02 1447.2 287.6C1448.43 280.18 1449.65 273.13 1450.9 266.5C1452.15 259.87 1453.45 252.77 1454.7 247.8C1455.95 242.83 1457.17 239.38 1458.4 236.7C1459.63 234.02 1461.17 232.63 1462.1 231.7C1463.03 230.77 1463.17 230.78 1464 231.1C1464.83 231.42 1465.97 231.85 1467.1 233.6C1468.23 235.35 1469.57 238.18 1470.8 241.6C1472.03 245.02 1473.25 249.75 1474.5 254.1C1475.75 258.45 1477.05 263.37 1478.3 267.7C1479.55 272.03 1480.77 276.37 1482 280.1C1483.23 283.83 1484.47 286.98 1485.7 290.1C1486.93 293.22 1488.27 296.32 1489.4 298.8C1490.53 301.28 1491.25 302.1 1492.5 305C1493.75 307.9 1495.33 312.47 1496.9 316.2C1498.47 319.93 1500.25 324.3 1501.9 327.4C1503.55 330.5 1505.15 332.73 1506.8 334.8C1508.45 336.87 1509.72 338.35 1511.8 339.8C1513.88 341.25 1516.82 342.37 1519.3 343.5C1521.78 344.63 1524.22 345.77 1526.7 346.6C1529.18 347.43 1531.72 348.08 1534.2 348.5C1536.68 348.92 1539.12 349.2 1541.6 349.1C1544.08 349 1546.62 348.62 1549.1 347.9C1551.58 347.18 1554.23 345.85 1556.5 344.8C1558.77 343.75 1560.83 342.27 1562.7 341.6C1564.57 340.93 1565.83 340.48 1567.7 340.8C1569.57 341.12 1572.03 342.02 1573.9 343.5C1575.77 344.98 1577.23 347.83 1578.9 349.7C1580.57 351.57 1581.83 352.42 1583.9 354.7C1585.97 356.98 1588.82 360.92 1591.3 363.4C1593.78 365.88 1595.9 367.53 1598.8 369.6C1601.7 371.67 1605.17 373.93 1608.7 375.8C1612.23 377.67 1616.45 379.55 1620 380.8C1623.55 382.05 1628.33 382.88 1630 383.3" fill="none" stroke="#EC962A" stroke-width="4.7" stroke-linejoin="round" stroke-linecap="butt"/>
<path d="M1373.75 383.3C1376.88 382.96 1388.12 381.88 1392.5 381.25C1396.88 380.62 1397.5 381.02 1400 379.5C1402.5 377.98 1405.02 375.2 1407.5 372.1C1409.98 369 1412.42 365.05 1414.9 360.9C1417.38 356.75 1419.92 351.97 1422.4 347.2C1424.88 342.43 1427.32 336.85 1429.8 332.3C1432.28 327.75 1434.82 323.2 1437.3 319.9C1439.78 316.6 1442.12 314.98 1444.7 312.5C1447.28 310.02 1450.73 307.7 1452.8 305C1454.87 302.3 1455.55 299.2 1457.1 296.3C1458.65 293.4 1460.43 290.5 1462.1 287.6C1463.77 284.7 1465.45 281.28 1467.1 278.9C1468.75 276.52 1470.35 274.5 1472 273.3C1473.65 272.1 1475.33 271.6 1477 271.7C1478.67 271.8 1480.33 272.5 1482 273.9C1483.67 275.3 1485.35 277.4 1487 280.1C1488.65 282.8 1490.35 286.78 1491.9 290.1C1493.45 293.42 1495.05 297.52 1496.3 300C1497.55 302.48 1497.85 302.52 1499.4 305C1500.95 307.48 1503.53 311.8 1505.6 314.9C1507.67 318 1509.52 320.7 1511.8 323.6C1514.08 326.5 1516.82 329.6 1519.3 332.3C1521.78 335 1524.22 337.32 1526.7 339.8C1529.18 342.28 1531.72 344.82 1534.2 347.2C1536.68 349.58 1539.12 352.23 1541.6 354.1C1544.08 355.97 1546.62 357.37 1549.1 358.4C1551.58 359.43 1554.02 360.08 1556.5 360.3C1558.98 360.52 1561.52 360.12 1564 359.7C1566.48 359.28 1568.92 358.22 1571.4 357.8C1573.88 357.38 1576.42 356.88 1578.9 357.2C1581.38 357.52 1583.82 358.47 1586.3 359.7C1588.78 360.93 1591.32 362.95 1593.8 364.6C1596.28 366.25 1598.72 368.25 1601.2 369.6C1603.68 370.95 1605.57 371.97 1608.7 372.7C1611.83 373.43 1616.03 373.68 1620 374C1623.97 374.32 1628.33 374.14 1632.5 374.6C1636.67 375.06 1640.42 375.85 1645 376.75C1649.58 377.65 1655 379.12 1660 380C1665 380.88 1669.17 381.5 1675 382C1680.83 382.5 1687.92 382.78 1695 383C1702.08 383.22 1713.75 383.25 1717.5 383.3" fill="none" stroke="#DE3399" stroke-width="4.7" stroke-linejoin="round" stroke-linecap="butt"/>
<path d="M1330 383.3C1333.33 382.96 1343.33 382.2 1350 381.25C1356.67 380.3 1363.75 378.76 1370 377.6C1376.25 376.44 1382.5 375.35 1387.5 374.3C1392.5 373.25 1396.67 372.4 1400 371.3C1403.33 370.2 1405.02 369.43 1407.5 367.7C1409.98 365.97 1412.42 363.9 1414.9 360.9C1417.38 357.9 1419.92 353.63 1422.4 349.7C1424.88 345.77 1427.32 341.23 1429.8 337.3C1432.28 333.37 1434.82 329.1 1437.3 326.1C1439.78 323.1 1442.22 320.95 1444.7 319.3C1447.18 317.65 1449.72 317.13 1452.2 316.2C1454.68 315.27 1457.12 314.63 1459.6 313.7C1462.08 312.77 1464.82 311.97 1467.1 310.6C1469.38 309.23 1471.23 307.27 1473.3 305.5C1475.37 303.73 1477.22 301.53 1479.5 300C1481.78 298.47 1484.52 297.17 1487 296.3C1489.48 295.43 1491.92 294.9 1494.4 294.8C1496.88 294.7 1499.62 294.93 1501.9 295.7C1504.18 296.47 1506.13 297.85 1508.1 299.4C1510.07 300.95 1511.83 302.62 1513.7 305C1515.57 307.38 1517.13 309.77 1519.3 313.7C1521.47 317.63 1524.22 323.42 1526.7 328.6C1529.18 333.78 1531.72 340.03 1534.2 344.8C1536.68 349.57 1539.33 354.2 1541.6 357.2C1543.87 360.2 1545.93 361.73 1547.8 362.8C1549.67 363.87 1550.93 363.82 1552.8 363.6C1554.67 363.38 1556.72 362.98 1559 361.5C1561.28 360.02 1564.02 357.08 1566.5 354.7C1568.98 352.32 1571.63 349.17 1573.9 347.2C1576.17 345.23 1578.03 343.87 1580.1 342.9C1582.17 341.93 1584.23 341.3 1586.3 341.4C1588.37 341.5 1590.42 342.12 1592.5 343.5C1594.58 344.88 1596.52 346.8 1598.8 349.7C1601.08 352.6 1603.72 357.38 1606.2 360.9C1608.68 364.42 1611.4 368.12 1613.7 370.8C1616 373.48 1617.95 375.38 1620 377C1622.05 378.62 1623.5 379.58 1626 380.5C1628.5 381.42 1631 382.04 1635 382.5C1639 382.96 1641.46 383.12 1650 383.25C1658.54 383.38 1680.21 383.29 1686.25 383.3" fill="none" stroke="#A3CEF5" stroke-width="4.7" stroke-linejoin="round" stroke-linecap="butt"/>
</g>
<rect x="1312.9" y="69.6" width="422.7" height="314.9" fill="none" stroke="#222" stroke-width="0.95"/>
<line x1="1375.9" y1="384.5" x2="1375.9" y2="388.8" stroke="#222" stroke-width="0.95"/>
<text class="tk" x="1375.9" y="403.8" text-anchor="middle">−0.1</text>
<line x1="1460.3" y1="384.5" x2="1460.3" y2="388.8" stroke="#222" stroke-width="0.95"/>
<text class="tk" x="1460.3" y="403.8" text-anchor="middle">0.0</text>
<line x1="1544.7" y1="384.5" x2="1544.7" y2="388.8" stroke="#222" stroke-width="0.95"/>
<text class="tk" x="1544.7" y="403.8" text-anchor="middle">0.1</text>
<line x1="1629.1" y1="384.5" x2="1629.1" y2="388.8" stroke="#222" stroke-width="0.95"/>
<text class="tk" x="1629.1" y="403.8" text-anchor="middle">0.2</text>
<line x1="1713.5" y1="384.5" x2="1713.5" y2="388.8" stroke="#222" stroke-width="0.95"/>
<text class="tk" x="1713.5" y="403.8" text-anchor="middle">0.3</text>
<line x1="1308.6" y1="384.5" x2="1312.9" y2="384.5" stroke="#222" stroke-width="0.95"/>
<text class="tk" x="1304.3" y="389.8" text-anchor="end">0</text>
<line x1="1308.6" y1="320.1" x2="1312.9" y2="320.1" stroke="#222" stroke-width="0.95"/>
<text class="tk" x="1304.3" y="325.4" text-anchor="end">5</text>
<line x1="1308.6" y1="255.7" x2="1312.9" y2="255.7" stroke="#222" stroke-width="0.95"/>
<text class="tk" x="1304.3" y="261" text-anchor="end">10</text>
<line x1="1308.6" y1="191.3" x2="1312.9" y2="191.3" stroke="#222" stroke-width="0.95"/>
<text class="tk" x="1304.3" y="196.6" text-anchor="end">15</text>
<line x1="1308.6" y1="126.9" x2="1312.9" y2="126.9" stroke="#222" stroke-width="0.95"/>
<text class="tk" x="1304.3" y="132.2" text-anchor="end">20</text>
<text class="ttl" x="1524.25" y="62.7" text-anchor="middle">Prediction Distribution</text>
<text class="yl" transform="translate(1277 227.05) rotate(-90)" text-anchor="middle">Density</text>
<rect x="1558.1" y="77.3" width="170" height="66.3" rx="3" ry="3" fill="#fff" fill-opacity="0.8" stroke="#ccc" stroke-opacity="0.8" stroke-width="0.95"/>
<rect x="1563.6" y="83.3" width="29.3" height="10.4" fill="#F1AB31" fill-opacity="0.5" stroke="#000" stroke-opacity="0.5" stroke-width="0.85"/>
<text class="lg" x="1604.5" y="93.3">LLMTime gpt-3.5</text>
<rect x="1563.6" y="104.15" width="29.3" height="10.4" fill="#DF41A7" fill-opacity="0.5" stroke="#000" stroke-opacity="0.5" stroke-width="0.85"/>
<text class="lg" x="1604.5" y="114.15">GWN</text>
<rect x="1563.6" y="125" width="29.3" height="10.4" fill="#ADCFF3" fill-opacity="0.5" stroke="#000" stroke-opacity="0.5" stroke-width="0.85"/>
<text class="lg" x="1604.5" y="135">DGA</text>
</g>
<g class="sub">
<text x="102.26" y="471.8" textLength="42.16" lengthAdjust="spacingAndGlyphs">(a)</text>
<text x="156.88" y="471.8" textLength="117" lengthAdjust="spacingAndGlyphs">ETTh1,</text>
<text x="284.28" y="471.8" textLength="145.64" lengthAdjust="spacingAndGlyphs">LLMTime</text>
<text x="442.5" y="471.8" textLength="167.92" lengthAdjust="spacingAndGlyphs">w/GPT-3.5</text>
<text x="682.28" y="471.8" textLength="43.1" lengthAdjust="spacingAndGlyphs">(b)</text>
<text x="737.56" y="471.8" textLength="117.72" lengthAdjust="spacingAndGlyphs">ETTh2,</text>
<text x="864.98" y="471.8" textLength="146.43" lengthAdjust="spacingAndGlyphs">LLMTime</text>
<text x="1024" y="471.8" textLength="167.71" lengthAdjust="spacingAndGlyphs">w/GPT-3.5</text>
<text x="1270.07" y="471.8" textLength="39.17" lengthAdjust="spacingAndGlyphs">(c)</text>
<text x="1323.7" y="471.8" textLength="129.16" lengthAdjust="spacingAndGlyphs">Weather,</text>
<text x="1463.38" y="471.8" textLength="149.23" lengthAdjust="spacingAndGlyphs">LLMTime</text>
<text x="1623.7" y="471.8" textLength="142.3" lengthAdjust="spacingAndGlyphs">w/GPT-4</text>
</g>
<g class="cap">
<text x="58.47" y="564.8" textLength="103.86" lengthAdjust="spacingAndGlyphs">Figure</text>
<text x="173.7" y="564.8" textLength="29.4" lengthAdjust="spacingAndGlyphs">4:</text>
<text x="218.49" y="564.8" textLength="165.73" lengthAdjust="spacingAndGlyphs">Prediction</text>
<text x="397" y="564.8" textLength="185.41" lengthAdjust="spacingAndGlyphs">distribution</text>
<text x="596.29" y="564.8" textLength="181.03" lengthAdjust="spacingAndGlyphs">comparison</text>
<text x="789.75" y="564.8" textLength="40.25" lengthAdjust="spacingAndGlyphs">for</text>
<text x="846.98" y="564.8" textLength="163.64" lengthAdjust="spacingAndGlyphs">LLMTime</text>
<text x="1023.96" y="564.8" textLength="94.95" lengthAdjust="spacingAndGlyphs">(using</text>
<text x="1132.76" y="564.8" textLength="148.42" lengthAdjust="spacingAndGlyphs">GPT-3.5,</text>
<text x="1294.37" y="564.8" textLength="122.89" lengthAdjust="spacingAndGlyphs">GPT-4)</text>
<text x="1431.16" y="564.8" textLength="96.48" lengthAdjust="spacingAndGlyphs">across</text>
<text x="1539.08" y="564.8" textLength="130.22" lengthAdjust="spacingAndGlyphs">different</text>
<text x="1683.68" y="564.8" textLength="132.35" lengthAdjust="spacingAndGlyphs">datasets</text>
</g>
<g class="cap">
<text x="59.49" y="607.5" textLength="86.51" lengthAdjust="spacingAndGlyphs">under</text>
<text x="159.76" y="607.5" textLength="80.66" lengthAdjust="spacingAndGlyphs">clean</text>
<text x="252.27" y="607.5" textLength="93.73" lengthAdjust="spacingAndGlyphs">input,</text>
<text x="358.26" y="607.5" textLength="102.82" lengthAdjust="spacingAndGlyphs">GWN,</text>
<text x="472.97" y="607.5" textLength="54.63" lengthAdjust="spacingAndGlyphs">and</text>
<text x="543.06" y="607.5" textLength="92.15" lengthAdjust="spacingAndGlyphs">DGA.</text>
</g>
</svg></body></html>
